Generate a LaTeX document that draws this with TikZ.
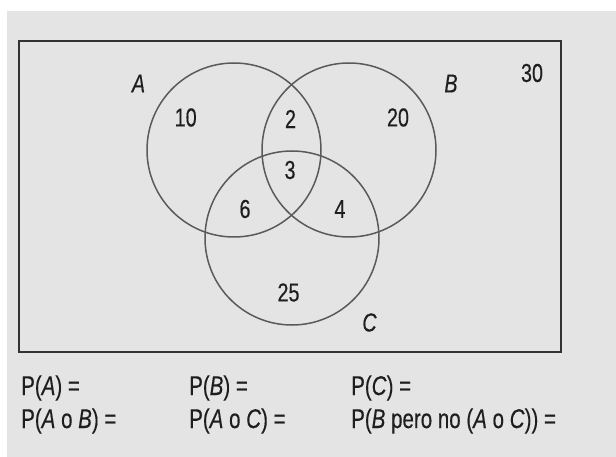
\documentclass[tikz,border=0pt]{standalone}
\usepackage{fontspec}
\setmainfont{Liberation Sans}[FakeStretch=0.76,FakeBold=0.35]
\definecolor{bggray}{HTML}{E4E4E4}
\definecolor{circgray}{HTML}{5A5A5A}
\definecolor{txt}{HTML}{1E1E1E}
\begin{document}
\begin{tikzpicture}[x=1pt,y=-1pt,
  lbl/.style={inner sep=0pt,text=txt,font=\fontsize{26}{30}\selectfont},
  eqtext/.style={inner sep=0pt,anchor=base west,text=txt,font=\fontsize{27}{31}\selectfont},
  setcirc/.style={draw=circgray,line width=1.5pt},
  frame/.style={draw=black!80,line width=2pt}]
\useasboundingbox (0,0) rectangle (616,457);
\fill[bggray] (7,11) rectangle (616,457);
\draw[frame] (18.5,41.5) rectangle (561,351.5);
\draw[setcirc] (234,150) circle (87);
\draw[setcirc] (349,150) circle (87);
\draw[setcirc] (292,238) circle (87);
\node[lbl] (la) at (138.5,83.5) {\itshape A};
\node[lbl] (lb) at (451,83.5) {\itshape B};
\node[lbl] (lc) at (369.5,322.5) {\itshape C};
\node[lbl] (n30) at (532,73) {30};
\node[lbl] (n10) at (185.7,117.5) {10};
\node[lbl] (n2) at (290.5,119) {2};
\node[lbl] (n20) at (398,117.5) {20};
\node[lbl] (n3) at (290,170) {3};
\node[lbl] (n6) at (245,209) {6};
\node[lbl] (n4) at (340,209) {4};
\node[lbl] (n25) at (288.5,292.5) {25};
\node[eqtext] (e1) at (21,395) {P(\textit{A}) =};
\node[eqtext] (e2) at (189,395) {P(\textit{B}) =};
\node[eqtext] (e3) at (351,395) {P(\textit{C}) =};
\node[eqtext] (e4) at (21,428) {P(\textit{A} o \textit{B}) =};
\node[eqtext] (e5) at (189,428) {P(\textit{A} o \textit{C}) =};
\node[eqtext] (e6) at (351,428) {P(\textit{B} pero no (\textit{A} o \textit{C})) =};
\end{tikzpicture}
\end{document}
